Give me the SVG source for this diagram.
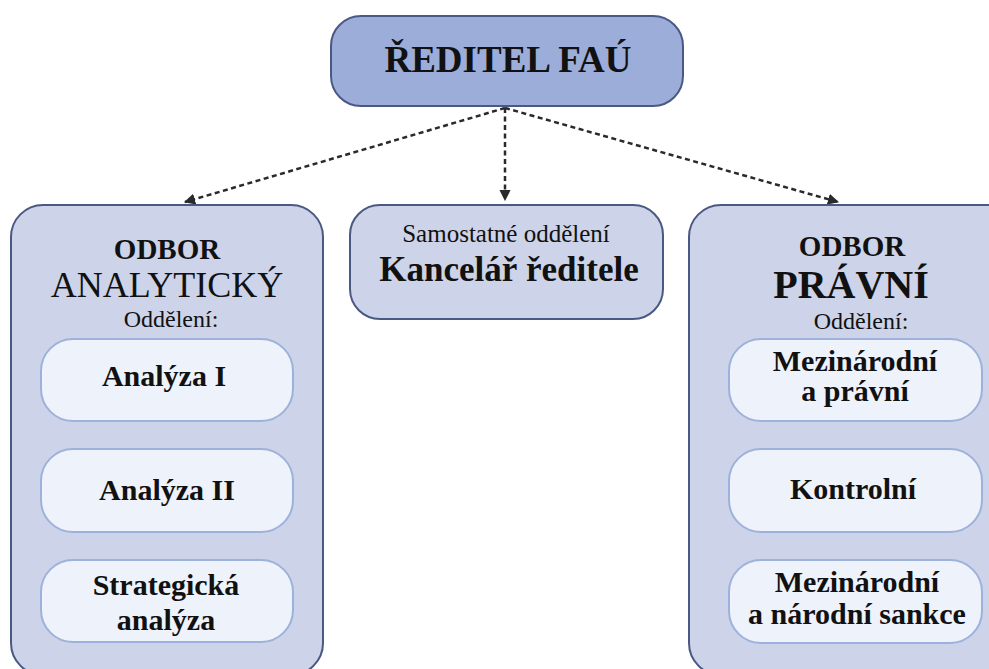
<svg xmlns="http://www.w3.org/2000/svg" width="989" height="669" viewBox="0 0 989 669">
<defs>
<style>
text{font-family:"Liberation Serif","Times New Roman",serif;fill:#111;text-anchor:middle}
.b{font-weight:bold}
.lab{font-weight:bold;font-size:30px}
.top{fill:#9CADD9;stroke:#4A5884;stroke-width:2}
.outer{fill:#CDD3E8;stroke:#4A5884;stroke-width:2}
.inner{fill:#EEF2FA;stroke:#9DB2DA;stroke-width:2}
.con{fill:none;stroke:#2a2a2a;stroke-width:2.5;stroke-dasharray:5 3.5}
</style>
<marker id="ah" viewBox="0 0 10 10" refX="9" refY="5" markerWidth="4.5" markerHeight="4.5" orient="auto" markerUnits="strokeWidth">
<path d="M0,0 L10,5 L0,10 z" fill="#2a2a2a"/>
</marker>
</defs>
<rect width="989" height="669" fill="#fff"/>
<g id="connectors">
<path class="con" d="M505,108 L185,202" marker-end="url(#ah)"/>
<path class="con" d="M505,108 L505,200" marker-end="url(#ah)"/>
<path class="con" d="M505,108 L838,202" marker-end="url(#ah)"/>
</g>
<g id="reditel">
<rect class="top" x="331" y="16" width="352" height="90" rx="30"/>
<text class="b" x="508" y="72" font-size="37">ŘEDITEL FAÚ</text>
</g>
<g id="odbor-analyticky">
<rect class="outer" x="11" y="205" width="312" height="470" rx="32"/>
<text class="b" x="167" y="259" font-size="29">ODBOR</text>
<text x="167" y="297" font-size="36">ANALYTICKÝ</text>
<text x="171" y="327" font-size="24">Oddělení:</text>
</g>
<g id="analyza-1">
<rect class="inner" x="41" y="339" width="252" height="82" rx="32"/>
<text class="lab" x="164" y="386">Analýza I</text>
</g>
<g id="analyza-2">
<rect class="inner" x="41" y="449" width="252" height="83" rx="32"/>
<text class="lab" x="167" y="500">Analýza II</text>
</g>
<g id="strategicka">
<rect class="inner" x="41" y="560" width="252" height="82" rx="32"/>
<text class="lab" x="166" y="595">Strategická</text>
<text class="lab" x="166" y="630">analýza</text>
</g>
<g id="kancelar">
<rect class="outer" x="350" y="205" width="313" height="114" rx="30"/>
<text x="506" y="242" font-size="25">Samostatné oddělení</text>
<text class="b" x="509" y="281" font-size="35">Kancelář ředitele</text>
</g>
<g id="odbor-pravni">
<rect class="outer" x="689" y="205" width="330" height="470" rx="32"/>
<text class="b" x="852" y="256" font-size="29">ODBOR</text>
<text class="b" x="851" y="298" font-size="40">PRÁVNÍ</text>
<text x="861" y="329" font-size="24">Oddělení:</text>
</g>
<g id="mezinarodni-pravni">
<rect class="inner" x="729" y="339" width="253" height="82" rx="32"/>
<text class="lab" x="855" y="371">Mezinárodní</text>
<text class="lab" x="855" y="401">a právní</text>
</g>
<g id="kontrolni">
<rect class="inner" x="729" y="449" width="253" height="83" rx="32"/>
<text class="lab" x="853" y="499">Kontrolní</text>
</g>
<g id="sankce">
<rect class="inner" x="729" y="560" width="253" height="83" rx="32"/>
<text class="lab" x="857" y="592">Mezinárodní</text>
<text class="lab" x="857" y="624">a národní sankce</text>
</g>
</svg>
